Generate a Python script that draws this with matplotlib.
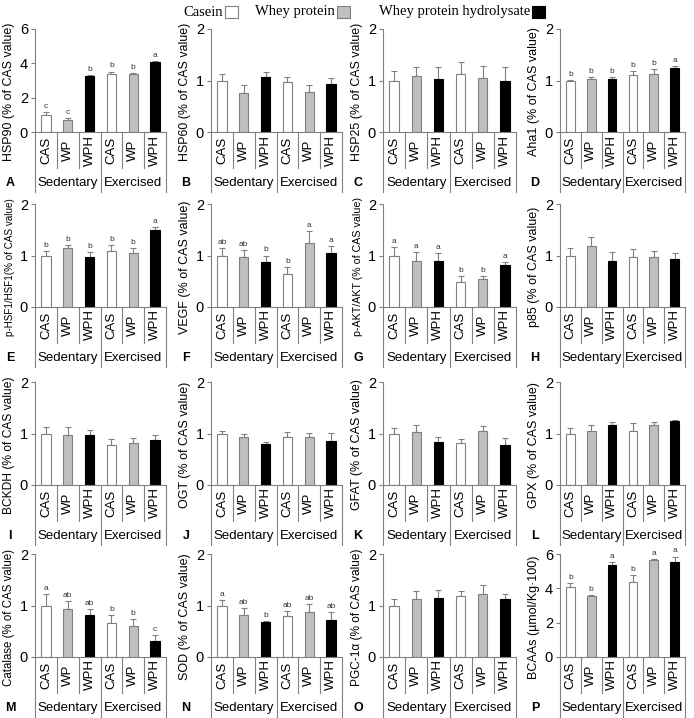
import numpy as np
import matplotlib
matplotlib.use("Agg")
import matplotlib.pyplot as plt
from matplotlib.patches import Rectangle

plt.rcParams['font.family'] = ['Liberation Sans', 'DejaVu Sans']

# data -------------------------------------------------------------
cats = ['CAS', 'WP', 'WPH', 'CAS', 'WP', 'WPH']
groups = ['Sedentary', 'Exercised']
panel_letters = list('ABCDEFGHIJKLMNOP')
ylabels = ['HSP90 (% of CAS value)', 'HSP60 (% of CAS value)', 'HSP25 (% of CAS value)',
           'Aha1 (% of CAS value)', 'p-HSF1/HSF1(% of CAS value)', 'VEGF (% of CAS value)',
           'p-AKT/AKT (% of CAS value)', 'p85 (% of CAS value)', 'BCKDH (% of CAS value)',
           'OGT (% of CAS value)', 'GFAT (% of CAS value)', 'GPX (% of CAS value)',
           'Catalase (% of CAS value)', 'SOD (% of CAS value)', 'PGC-1\u03b1 (% of CAS value)',
           'BCAAs (\u00b5mol/Kg\u00b7100)']
ymax = [6, 2, 2, 2, 2, 2, 2, 2, 2, 2, 2, 2, 2, 2, 2, 6]

hsp90 = [1.0, 0.7, 3.25, 3.4, 3.35, 4.05]
hsp90_err = [0.15, 0.12, 0.08, 0.12, 0.06, 0.08]
hsp90_sig = ['c', 'c', 'b', 'b', 'b', 'a']
hsp60 = [1.0, 0.75, 1.07, 0.98, 0.77, 0.94]
hsp60_err = [0.12, 0.17, 0.1, 0.08, 0.15, 0.1]
hsp25 = [1.0, 1.08, 1.03, 1.12, 1.04, 1.0]
hsp25_err = [0.18, 0.18, 0.23, 0.23, 0.24, 0.27]
aha1 = [1.0, 1.02, 1.03, 1.1, 1.12, 1.25]
aha1_err = [0.01, 0.05, 0.04, 0.08, 0.1, 0.03]
aha1_sig = ['b', 'b', 'b', 'b', 'b', 'a']
phsf1 = [1.0, 1.14, 0.97, 1.08, 1.05, 1.49]
phsf1_err = [0.08, 0.07, 0.1, 0.12, 0.09, 0.07]
phsf1_sig = ['b', 'b', 'b', 'b', 'b', 'a']
vegf = [1.0, 0.98, 0.87, 0.64, 1.24, 1.05]
vegf_err = [0.15, 0.12, 0.13, 0.13, 0.24, 0.14]
vegf_sig = ['ab', 'ab', 'b', 'b', 'a', 'a']
pakt = [1.0, 0.89, 0.89, 0.49, 0.54, 0.82]
pakt_err = [0.16, 0.17, 0.16, 0.12, 0.06, 0.05]
pakt_sig = ['a', 'a', 'a', 'b', 'b', 'a']
p85 = [1.0, 1.18, 0.9, 0.98, 0.98, 0.93]
p85_err = [0.14, 0.18, 0.16, 0.14, 0.1, 0.11]
bckdh = [1.0, 0.97, 0.97, 0.77, 0.82, 0.88]
bckdh_err = [0.13, 0.15, 0.1, 0.12, 0.1, 0.1]
ogt = [1.0, 0.94, 0.8, 0.94, 0.94, 0.86]
ogt_err = [0.04, 0.05, 0.04, 0.08, 0.07, 0.15]
gfat = [1.0, 1.02, 0.83, 0.82, 1.05, 0.78]
gfat_err = [0.1, 0.15, 0.1, 0.07, 0.1, 0.14]
gpx = [1.0, 1.04, 1.16, 1.04, 1.16, 1.24]
gpx_err = [0.1, 0.12, 0.07, 0.16, 0.07, 0.02]
catalase = [1.0, 0.93, 0.81, 0.66, 0.61, 0.32]
catalase_err = [0.22, 0.16, 0.13, 0.15, 0.12, 0.1]
catalase_sig = ['a', 'ab', 'ab', 'b', 'b', 'c']
sod = [1.0, 0.82, 0.67, 0.8, 0.87, 0.72]
sod_err = [0.1, 0.13, 0.03, 0.09, 0.16, 0.16]
sod_sig = ['a', 'ab', 'b', 'ab', 'ab', 'ab']
pgc1a = [1.0, 1.13, 1.14, 1.19, 1.23, 1.12]
pgc1a_err = [0.12, 0.15, 0.17, 0.1, 0.16, 0.11]
bcaa = [4.05, 3.55, 5.35, 4.35, 5.65, 5.55]
bcaa_err = [0.25, 0.05, 0.18, 0.4, 0.06, 0.3]
bcaa_sig = ['b', 'b', 'a', 'b', 'a', 'a']

values = [hsp90, hsp60, hsp25, aha1, phsf1, vegf, pakt, p85,
          bckdh, ogt, gfat, gpx, catalase, sod, pgc1a, bcaa]
errors = [hsp90_err, hsp60_err, hsp25_err, aha1_err, phsf1_err, vegf_err, pakt_err, p85_err,
          bckdh_err, ogt_err, gfat_err, gpx_err, catalase_err, sod_err, pgc1a_err, bcaa_err]
sigs = [hsp90_sig, None, None, aha1_sig, phsf1_sig, vegf_sig, pakt_sig, None,
        None, None, None, None, catalase_sig, sod_sig, None, bcaa_sig]

# layout (pixels) --------------------------------------------------
W, H = 694, 718
cols = [(35, 166), (211, 342), (383, 516), (560, 685)]
rows = [(29, 132), (204, 307), (382, 485), (554, 657)]
fills = ['white', '#bfbfbf', 'black', 'white', '#bfbfbf', 'black']
edges = ['#808080', '#808080', 'black', '#808080', '#808080', 'black']
gray = '#808080'
PX = 0.72  # points per pixel at dpi 100
label_len = 138  # pixel length of the y labels in the reference

fig = plt.figure(figsize=(W / 100, H / 100), dpi=100)
renderer = fig.canvas.get_renderer()

for k in range(16):
    r, c = divmod(k, 4)
    l, rr = cols[c]
    t, b = rows[r]
    ax = fig.add_axes([l / W, 1 - b / H, (rr - l) / W, (b - t) / H])
    hpx = b - t
    wpx = rr - l
    x = np.arange(6)
    ax.bar(x, values[k], width=0.42, color=fills, edgecolor=edges, linewidth=0.8, zorder=2)
    ax.errorbar(x, values[k], yerr=[np.zeros(6), errors[k]], fmt='none',
                ecolor=gray, elinewidth=0.8, capsize=2, capthick=0.8, zorder=1)
    if sigs[k] is not None:
        for i in range(6):
            ax.annotate(sigs[k][i], (x[i], values[k][i] + errors[k][i]),
                        xytext=(0, 1.5), textcoords='offset points',
                        ha='center', va='bottom', fontsize=6, color='#333333')
    ax.set_xlim(-0.5, 5.5)
    ax.set_ylim(0, ymax[k])
    ax.set_yticks(np.arange(0, ymax[k] + 1, 2 if ymax[k] == 6 else 1))
    ax.tick_params(axis='y', direction='out', length=3, width=0.8, color=gray,
                   labelsize=10.5, pad=2)
    ax.set_xticks([])
    for s in ['top', 'right']:
        ax.spines[s].set_visible(False)
    ax.spines['left'].set_color(gray)
    ax.spines['bottom'].set_color(gray)
    ax.spines['left'].set_linewidth(0.8)
    ax.spines['bottom'].set_linewidth(0.8)
    ax.patch.set_visible(False)

    # y label: shrink to the reference length, centred a bit below the axes middle
    yl = ax.set_ylabel(ylabels[k], fontsize=9)
    ext = yl.get_window_extent(renderer)
    if ext.height > label_len:
        yl.set_fontsize(9 * label_len / ext.height)
    ax.yaxis.set_label_coords(-20 / wpx, 1 - 63 / hpx)

    tr = ax.get_xaxis_transform()
    for xs in np.arange(-0.5, 6, 1.0):
        depth = 60 if xs in (-0.5, 2.5, 5.5) else 36
        ax.plot([xs, xs], [0, -depth / hpx], transform=tr, color=gray,
                lw=0.8, clip_on=False)
    for i in range(6):
        ax.annotate(cats[i], (x[i], 0), xycoords=tr, xytext=(0, -18 * PX),
                    textcoords='offset points', rotation=90, ha='center',
                    va='center', fontsize=9.5)
    for g in range(2):
        ax.annotate(groups[g], (1 + 3 * g, 0), xycoords=tr, xytext=(0, -51 * PX),
                    textcoords='offset points', ha='center', va='center', fontsize=9.5)
    ax.annotate(panel_letters[k], (0, 0), xycoords='axes fraction',
                xytext=(-25 * PX, -51 * PX), textcoords='offset points',
                ha='center', va='center', fontsize=9, fontweight='bold')

# legend -----------------------------------------------------------
leg_names = ['Casein', 'Whey protein', 'Whey protein hydrolysate']
leg_text_end = [223, 335, 530]
for name, xe, fc, ec in zip(leg_names, leg_text_end, ['white', '#bfbfbf', 'black'],
                            [gray, gray, 'black']):
    fig.text(xe / W, 1 - 12 / H, name, ha='right', va='center', fontsize=10.5,
             family=['Liberation Serif', 'DejaVu Serif'])
    fig.patches.append(Rectangle(((xe + 2) / W, 1 - 18 / H), 13 / W, 12 / H,
                                 transform=fig.transFigure, facecolor=fc,
                                 edgecolor=ec, linewidth=0.8))

fig.savefig('out.png', dpi=100)
